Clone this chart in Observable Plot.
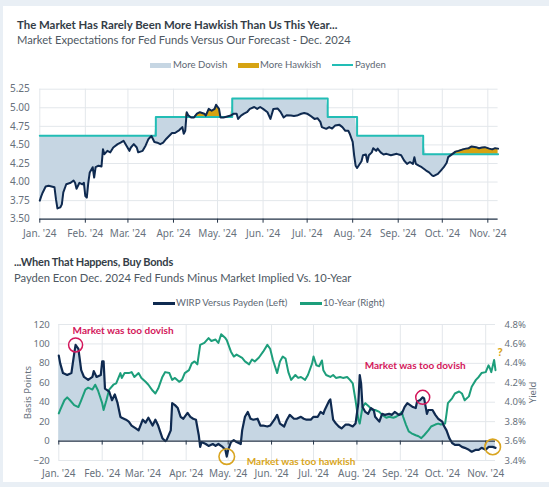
<!DOCTYPE html>
<html><head><meta charset="utf-8">
<script src="https://cdn.jsdelivr.net/npm/d3@7"></script>
<script src="https://cdn.jsdelivr.net/npm/@observablehq/plot@0.6"></script>
<style>
html,body{margin:0;padding:0;background:#e9eff5;}
#page{position:relative;width:549px;height:487px;overflow:hidden;font-family:Lato,"Noto Sans",sans-serif;}
#card{position:absolute;left:3px;top:6px;width:546px;height:476px;background:#fff;}
.title{position:absolute;font-weight:700;font-size:11.4px;color:#343d47;white-space:nowrap;line-height:1;}
.sub{position:absolute;font-size:11.2px;color:#4e5862;white-space:nowrap;line-height:1;}
.lg{position:absolute;font-size:9.6px;color:#5d6773;white-space:nowrap;line-height:1;}
.sw{position:absolute;}
.chart{position:absolute;left:0;}
</style></head>
<body><div id="page"><div id="card"></div>
<div class="title" style="left:17px;top:18.5px">The Market Has Rarely Been More Hawkish Than Us This Year...</div>
<div class="sub" style="left:17px;top:34px">Market Expectations for Fed Funds Versus Our Forecast - Dec. 2024</div>
<div class="sw" style="left:150px;top:62.5px;width:21px;height:5px;background:#c6d6e3"></div>
<div class="lg" style="left:173px;top:60px">More Dovish</div>
<div class="sw" style="left:238px;top:62.5px;width:21px;height:5px;background:#d6a312"></div>
<div class="lg" style="left:260px;top:60px">More Hawkish</div>
<div class="sw" style="left:332px;top:64px;width:21px;height:2px;background:#22bdb5"></div>
<div class="lg" style="left:355px;top:60px">Payden</div>
<div id="topChart" class="chart" style="top:70px"></div>
<div class="title" style="left:14px;top:255.5px;font-size:11px;letter-spacing:-0.2px">...When That Happens, Buy Bonds</div>
<div class="sub" style="left:14px;top:272px">Payden Econ Dec. 2024 Fed Funds Minus Market Implied Vs. 10-Year</div>
<div class="sw" style="left:153px;top:301.5px;width:22px;height:3px;background:#0f2a50"></div>
<div class="lg" style="left:176px;top:298px">WIRP Versus Payden (Left)</div>
<div class="sw" style="left:300px;top:301.5px;width:22px;height:3px;background:#1d9e7b"></div>
<div class="lg" style="left:323px;top:298px">10-Year (Right)</div>
<div id="bottomChart" class="chart" style="top:310px"></div>
</div>
<script>
const parse = d3.utcParse("%Y-%m-%d");
const fmtMonth = d3.utcFormat("%b. '%y");

const monthTicks = ["2024-01-01","2024-02-01","2024-03-01","2024-04-01","2024-05-01","2024-06-01","2024-07-01","2024-08-01","2024-09-01","2024-10-01","2024-11-01"];
const xDomain = ["2024-01-01","2024-11-08"];
const rateTicks = [3.5,3.75,4.0,4.25,4.5,4.75,5.0,5.25];
const bpTicks = [-20,0,20,40,60,80,100,120];
const yieldTicks = [3.4,3.6,3.8,4.0,4.2,4.4,4.6,4.8];
const yieldAtZeroBp = 3.6;

// Payden forecast for Dec. 2024 fed funds (step changes)
const paydenForecast = [
  ["2024-01-01",4.625],["2024-03-20",4.875],["2024-05-11",5.125],["2024-07-15",4.875],
  ["2024-08-04",4.625],["2024-09-18",4.375],["2024-11-08",4.375]
];

// Market implied Dec. 2024 fed funds
const marketImplied = [
  ["2024-01-01",3.75],["2024-01-02",3.81],["2024-01-03",3.86],["2024-01-05",3.94],["2024-01-07",3.95],
  ["2024-01-09",3.94],["2024-01-11",3.93],["2024-01-12",3.77],["2024-01-13",3.645],["2024-01-15",3.66],
  ["2024-01-16",3.70],["2024-01-17",3.86],["2024-01-19",3.97],["2024-01-22",3.99],["2024-01-24",4.02],
  ["2024-01-25",3.99],["2024-01-26",3.91],["2024-01-28",3.99],["2024-01-30",3.97],["2024-01-31",3.99],
  ["2024-02-01",3.81],["2024-02-02",3.79],["2024-02-03",3.99],["2024-02-04",4.13],["2024-02-06",4.20],
  ["2024-02-07",4.06],["2024-02-08",4.20],["2024-02-10",4.22],["2024-02-12",4.21],["2024-02-13",4.44],
  ["2024-02-14",4.375],["2024-02-16",4.42],["2024-02-18",4.40],["2024-02-20",4.465],["2024-02-23",4.51],
  ["2024-02-25",4.53],["2024-02-27",4.555],["2024-02-29",4.49],["2024-03-02",4.42],["2024-03-03",4.465],
  ["2024-03-05",4.51],["2024-03-07",4.465],["2024-03-08",4.40],["2024-03-11",4.42],["2024-03-13",4.49],
  ["2024-03-15",4.58],["2024-03-17",4.62],["2024-03-19",4.54],["2024-03-21",4.53],["2024-03-23",4.51],
  ["2024-03-25",4.53],["2024-03-27",4.58],["2024-03-29",4.62],["2024-03-31",4.66],["2024-04-02",4.66],
  ["2024-04-05",4.70],["2024-04-07",4.74],["2024-04-08",4.65],["2024-04-09",4.69],["2024-04-10",4.94],
  ["2024-04-11",4.90],["2024-04-13",4.87],["2024-04-15",4.87],["2024-04-17",4.92],["2024-04-19",4.94],
  ["2024-04-22",4.92],["2024-04-23",4.895],["2024-04-25",4.985],["2024-04-27",4.96],["2024-04-29",4.985],
  ["2024-04-30",5.04],["2024-05-02",4.985],["2024-05-03",4.87],["2024-05-05",4.87],["2024-05-07",4.88],
  ["2024-05-10",4.895],["2024-05-12",4.92],["2024-05-14",4.92],["2024-05-15",4.85],["2024-05-17",4.895],
  ["2024-05-19",4.92],["2024-05-21",4.94],["2024-05-23",4.985],["2024-05-26",5.01],["2024-05-28",4.985],
  ["2024-05-30",5.01],["2024-06-01",4.985],["2024-06-04",4.94],["2024-06-06",4.85],["2024-06-08",4.985],
  ["2024-06-11",4.99],["2024-06-13",4.94],["2024-06-15",4.87],["2024-06-17",4.90],["2024-06-20",4.895],
  ["2024-06-22",4.89],["2024-06-24",4.895],["2024-06-27",4.92],["2024-06-29",4.93],["2024-07-01",4.92],
  ["2024-07-03",4.895],["2024-07-06",4.85],["2024-07-08",4.86],["2024-07-10",4.81],["2024-07-11",4.74],
  ["2024-07-14",4.716],["2024-07-16",4.74],["2024-07-18",4.72],["2024-07-20",4.76],["2024-07-23",4.77],
  ["2024-07-25",4.74],["2024-07-27",4.69],["2024-07-29",4.69],["2024-07-30",4.65],["2024-08-01",4.54],
  ["2024-08-02",4.36],["2024-08-03",4.22],["2024-08-04",4.19],["2024-08-05",4.22],["2024-08-07",4.28],
  ["2024-08-08",4.36],["2024-08-10",4.37],["2024-08-11",4.27],["2024-08-12",4.36],["2024-08-14",4.40],
  ["2024-08-15",4.456],["2024-08-17",4.42],["2024-08-18",4.45],["2024-08-20",4.40],["2024-08-22",4.37],
  ["2024-08-24",4.38],["2024-08-27",4.36],["2024-08-29",4.37],["2024-08-31",4.38],["2024-09-03",4.36],
  ["2024-09-05",4.29],["2024-09-07",4.245],["2024-09-09",4.27],["2024-09-11",4.245],["2024-09-12",4.335],
  ["2024-09-13",4.245],["2024-09-15",4.22],["2024-09-17",4.20],["2024-09-20",4.155],["2024-09-22",4.13],
  ["2024-09-24",4.09],["2024-09-25",4.08],["2024-09-28",4.11],["2024-09-30",4.155],["2024-10-02",4.20],
  ["2024-10-04",4.26],["2024-10-05",4.335],["2024-10-08",4.38],["2024-10-10",4.41],["2024-10-12",4.42],
  ["2024-10-15",4.44],["2024-10-17",4.45],["2024-10-19",4.456],["2024-10-21",4.48],["2024-10-24",4.47],
  ["2024-10-26",4.456],["2024-10-28",4.465],["2024-10-30",4.47],["2024-11-02",4.45],["2024-11-04",4.44],
  ["2024-11-06",4.456],["2024-11-08",4.45]
];

// WIRP versus Payden, basis points (left axis)
const wirpVsPayden = [
  ["2024-01-01",88],["2024-01-02",80],["2024-01-04",70],["2024-01-07",68],["2024-01-10",70],
  ["2024-01-12",90],["2024-01-13",99],["2024-01-15",95],["2024-01-17",73],["2024-01-19",66],
  ["2024-01-22",63],["2024-01-25",66],["2024-01-26",72],["2024-01-28",66],["2024-01-31",68],
  ["2024-02-01",82],["2024-02-02",82],["2024-02-03",54],["2024-02-06",51],["2024-02-08",42],
  ["2024-02-10",48],["2024-02-12",39],["2024-02-14",25],["2024-02-15",24],["2024-02-18",22],
  ["2024-02-20",20],["2024-02-22",16],["2024-02-25",13],["2024-02-27",11],["2024-03-01",22],
  ["2024-03-03",19],["2024-03-05",24],["2024-03-08",16],["2024-03-10",22],["2024-03-12",16],
  ["2024-03-15",3],["2024-03-17",0],["2024-03-18",1],["2024-03-21",11],["2024-03-22",39],
  ["2024-03-24",37],["2024-03-26",34],["2024-03-28",25],["2024-03-30",23],["2024-04-02",29],
  ["2024-04-04",25],["2024-04-06",23],["2024-04-08",22],["2024-04-10",6],["2024-04-11",-6],
  ["2024-04-12",-1],["2024-04-15",-3],["2024-04-17",-5],["2024-04-20",-3],["2024-04-22",-5],
  ["2024-04-24",-3],["2024-04-27",-6],["2024-04-29",-9],["2024-04-30",-16],["2024-05-01",-9],
  ["2024-05-03",-1],["2024-05-05",1],["2024-05-07",-1],["2024-05-10",-3],["2024-05-11",11],
  ["2024-05-13",25],["2024-05-15",30],["2024-05-17",23],["2024-05-19",22],["2024-05-22",23],
  ["2024-05-24",16],["2024-05-26",16],["2024-05-29",15],["2024-05-31",16],["2024-06-03",22],
  ["2024-06-05",27],["2024-06-07",18],["2024-06-10",15],["2024-06-12",22],["2024-06-14",27],
  ["2024-06-17",23],["2024-06-19",23],["2024-06-22",25],["2024-06-24",23],["2024-06-26",22],
  ["2024-06-29",22],["2024-07-01",25],["2024-07-04",25],["2024-07-06",30],["2024-07-08",28],
  ["2024-07-09",32],["2024-07-12",41],["2024-07-13",43],["2024-07-15",22],["2024-07-17",18],
  ["2024-07-19",15],["2024-07-21",13],["2024-07-24",17],["2024-07-26",17],["2024-07-29",15],
  ["2024-07-31",18],["2024-08-02",39],["2024-08-03",68],["2024-08-04",59],["2024-08-05",35],
  ["2024-08-07",30],["2024-08-09",28],["2024-08-11",34],["2024-08-13",32],["2024-08-14",25],
  ["2024-08-17",20],["2024-08-19",28],["2024-08-21",27],["2024-08-24",28],["2024-08-26",27],
  ["2024-08-28",30],["2024-08-31",27],["2024-09-02",28],["2024-09-04",35],["2024-09-06",39],
  ["2024-09-08",37],["2024-09-10",35],["2024-09-12",34],["2024-09-13",41],["2024-09-15",42],
  ["2024-09-17",45],["2024-09-18",44],["2024-09-20",28],["2024-09-21",32],["2024-09-24",32],
  ["2024-09-26",27],["2024-09-28",23],["2024-10-01",20],["2024-10-02",16],["2024-10-04",11],
  ["2024-10-06",3],["2024-10-08",-2],["2024-10-10",-4],["2024-10-13",-4],["2024-10-15",-6],
  ["2024-10-17",-7],["2024-10-20",-9],["2024-10-22",-11],["2024-10-25",-9],["2024-10-27",-9],
  ["2024-10-29",-7],["2024-11-01",-9],["2024-11-03",-6],["2024-11-06",-6],["2024-11-08",-7]
];

// 10-year Treasury yield, % (right axis)
const tenYear = [
  ["2024-01-01",3.885],["2024-01-02",3.92],["2024-01-05",4.02],["2024-01-07",4.05],["2024-01-09",4.02],
  ["2024-01-12",3.97],["2024-01-15",3.95],["2024-01-17",4.02],["2024-01-20",4.13],["2024-01-22",4.15],
  ["2024-01-25",4.13],["2024-01-27",4.18],["2024-01-29",4.12],["2024-02-01",3.99],["2024-02-02",3.92],
  ["2024-02-04",4.02],["2024-02-06",4.13],["2024-02-09",4.18],["2024-02-11",4.195],["2024-02-14",4.30],
  ["2024-02-15",4.25],["2024-02-17",4.30],["2024-02-20",4.30],["2024-02-22",4.31],["2024-02-24",4.26],
  ["2024-02-27",4.30],["2024-02-29",4.25],["2024-03-03",4.21],["2024-03-05",4.18],["2024-03-08",4.12],
  ["2024-03-10",4.09],["2024-03-12",4.14],["2024-03-15",4.26],["2024-03-17",4.31],["2024-03-20",4.30],
  ["2024-03-22",4.23],["2024-03-24",4.25],["2024-03-27",4.21],["2024-03-29",4.23],["2024-03-31",4.30],
  ["2024-04-03",4.33],["2024-04-05",4.40],["2024-04-07",4.42],["2024-04-09",4.39],["2024-04-11",4.59],
  ["2024-04-14",4.61],["2024-04-17",4.66],["2024-04-19",4.63],["2024-04-22",4.645],["2024-04-24",4.61],
  ["2024-04-26",4.70],["2024-04-29",4.66],["2024-04-30",4.64],["2024-05-03",4.52],["2024-05-05",4.47],
  ["2024-05-07",4.49],["2024-05-11",4.456],["2024-05-13",4.42],["2024-05-16",4.39],["2024-05-18",4.44],
  ["2024-05-20",4.42],["2024-05-23",4.46],["2024-05-26",4.52],["2024-05-29",4.59],["2024-05-31",4.55],
  ["2024-06-02",4.435],["2024-06-05",4.30],["2024-06-07",4.42],["2024-06-09",4.47],["2024-06-11",4.45],
  ["2024-06-13",4.31],["2024-06-15",4.23],["2024-06-18",4.28],["2024-06-20",4.25],["2024-06-22",4.26],
  ["2024-06-25",4.23],["2024-06-27",4.28],["2024-06-30",4.40],["2024-07-01",4.47],["2024-07-03",4.38],
  ["2024-07-05",4.37],["2024-07-07",4.43],["2024-07-08",4.33],["2024-07-10",4.28],["2024-07-13",4.26],
  ["2024-07-15",4.28],["2024-07-17",4.25],["2024-07-20",4.26],["2024-07-22",4.25],["2024-07-25",4.26],
  ["2024-07-27",4.23],["2024-07-29",4.195],["2024-07-31",4.02],["2024-08-02",3.82],["2024-08-03",3.78],
  ["2024-08-05",3.95],["2024-08-07",3.99],["2024-08-10",3.95],["2024-08-12",3.92],["2024-08-14",3.92],
  ["2024-08-17",3.90],["2024-08-19",3.87],["2024-08-22",3.84],["2024-08-24",3.85],["2024-08-27",3.84],
  ["2024-08-29",3.85],["2024-08-31",3.87],["2024-09-02",3.90],["2024-09-03",3.85],["2024-09-05",3.77],
  ["2024-09-07",3.70],["2024-09-09",3.68],["2024-09-12",3.66],["2024-09-14",3.65],["2024-09-16",3.63],
  ["2024-09-18",3.66],["2024-09-21",3.71],["2024-09-23",3.75],["2024-09-26",3.77],["2024-09-28",3.78],
  ["2024-09-30",3.77],["2024-10-03",3.78],["2024-10-04",3.88],["2024-10-05",3.99],["2024-10-08",4.04],
  ["2024-10-10",4.09],["2024-10-13",4.11],["2024-10-15",4.09],["2024-10-17",4.02],["2024-10-20",4.06],
  ["2024-10-22",4.16],["2024-10-25",4.23],["2024-10-27",4.26],["2024-10-29",4.30],["2024-11-01",4.31],
  ["2024-11-03",4.38],["2024-11-04",4.35],["2024-11-05",4.31],["2024-11-07",4.435],["2024-11-08",4.33]
];

// Annotations (anchored on WIRP observations)
const dovishMarks = ["2024-01-13","2024-09-17"];
const hawkishMarks = ["2024-04-30","2024-11-06"];
const dovishLabel = "Market was too dovish";
const hawkishLabel = "Market was too hawkish";
const questionDate = "2024-11-07";

(function () {
// ---------- styles ----------
const NAVY = "#0f2a50", TEAL = "#22bdb5", GREEN = "#1d9e7b", DOVE = "#c6d6e3", HAWK = "#d6a312";
const GRID = "#e3e7eb", AXIS = "#27364a", TXT = "#67717c", CRIMSON = "#d3175b", GOLD = "#d9a521";
const FONT = "'Noto Sans', sans-serif";
const NOTEFONT = "Lato, 'Noto Sans', sans-serif";

const ticksX = monthTicks.map(parse);
const domX = xDomain.map(parse);

// ---------- top chart ----------
const payden = paydenForecast.map(([d, v]) => ({date: parse(d), value: v}));
const paydenAt = (date) => { let v = payden[0].value; for (const p of payden) if (p.date <= date) v = p.value; return v; };
const rows = marketImplied.map(([d, v]) => { const date = parse(d); return {date, market: v, payden: paydenAt(date)}; });

const chartTop = Plot.plot({
  width: 549, height: 170,
  marginLeft: 39.3, marginRight: 51.4, marginTop: 18.7, marginBottom: 21.3,
  x: {type: "utc", domain: domX},
  y: {domain: [3.5, 5.25]},
  style: {fontFamily: FONT, fontSize: "10px", color: TXT, background: "transparent", overflow: "visible"},
  marks: [
    Plot.gridY({ticks: rateTicks, stroke: GRID, strokeOpacity: 1}),
    Plot.gridX({ticks: ticksX, stroke: GRID, strokeOpacity: 1}),
    Plot.areaY(rows, {x: "date", y1: "market", y2: d => Math.max(d.market, d.payden), fill: DOVE}),
    Plot.areaY(rows, {x: "date", y1: "payden", y2: d => Math.max(d.market, d.payden), fill: HAWK}),
    Plot.line(payden, {x: "date", y: "value", curve: "step-after", stroke: TEAL, strokeWidth: 2}),
    Plot.line(rows, {x: "date", y: "market", stroke: NAVY, strokeWidth: 2}),
    Plot.ruleY([3.5], {stroke: AXIS, strokeWidth: 1.2}),
    Plot.axisX({ticks: ticksX, tickFormat: fmtMonth, tickSize: 4, tickPadding: 7, stroke: AXIS, fill: TXT, label: null}),
    Plot.axisY({ticks: rateTicks, tickFormat: d3.format(".2f"), tickSize: 0, tickPadding: 10, fill: TXT, label: null})
  ]
});
document.getElementById("topChart").appendChild(chartTop);

// ---------- bottom chart ----------
const toBp = (y) => (y - yieldAtZeroBp) * 100;
const wirp = wirpVsPayden.map(([d, v]) => ({date: parse(d), value: v}));
const ten = tenYear.map(([d, v]) => ({date: parse(d), value: v}));
const wirpAt = (s) => wirp.find(r => +r.date === +parse(s));
const tenAt = (s) => ten.find(r => +r.date === +parse(s));
const dovePts = dovishMarks.map(wirpAt);
const hawkPts = hawkishMarks.map(wirpAt);
const qPt = tenAt(questionDate);

const chartBottom = Plot.plot({
  width: 549, height: 177,
  marginLeft: 58.3, marginRight: 54, marginTop: 14, marginBottom: 27,
  x: {type: "utc", domain: domX},
  y: {domain: [-20, 120]},
  style: {fontFamily: FONT, fontSize: "9.5px", color: TXT, background: "transparent", overflow: "visible"},
  marks: [
    Plot.gridY({ticks: bpTicks, stroke: GRID, strokeOpacity: 1}),
    Plot.gridX({ticks: ticksX, stroke: GRID, strokeOpacity: 1}),
    Plot.areaY(wirp, {x: "date", y: "value", fill: DOVE}),
    Plot.line(ten, {x: "date", y: d => toBp(d.value), stroke: GREEN, strokeWidth: 2}),
    Plot.line(wirp, {x: "date", y: "value", stroke: NAVY, strokeWidth: 2.2}),
    Plot.ruleY([0], {stroke: AXIS, strokeWidth: 1.2}),
    Plot.ruleX(ticksX, {y1: 0, y2: 0, insetBottom: -4, stroke: AXIS}),
    Plot.axisX({ticks: ticksX, tickFormat: fmtMonth, tickSize: 0, tickPadding: 9.5, fill: TXT, label: null, fontSize: 10}),
    Plot.axisY({ticks: bpTicks, tickSize: 0, tickPadding: 9, fill: TXT, label: "Basis Points", labelAnchor: "center", labelOffset: 35, labelArrow: "none"}),
    Plot.axisY({anchor: "right", ticks: yieldTicks.map(toBp), tickFormat: d => (yieldAtZeroBp + d / 100).toFixed(1) + "%", tickSize: 0, tickPadding: 9, fill: TXT, label: "Yield", labelAnchor: "center", labelOffset: 40, labelArrow: "none"}),
    Plot.dot(dovePts, {x: "date", y: "value", r: 7, stroke: CRIMSON, strokeWidth: 1.5, fill: "none"}),
    Plot.dot(hawkPts, {x: "date", y: "value", r: 7.8, stroke: GOLD, strokeWidth: 1.6, fill: "none"}),
    Plot.text([dovePts[0]], {x: "date", y: "value", text: () => dovishLabel, textAnchor: "start", dx: -3, dy: -14.5, fill: CRIMSON, fontWeight: 700, fontSize: 10, fontFamily: NOTEFONT}),
    Plot.text([dovePts[1]], {x: "date", y: "value", text: () => dovishLabel, textAnchor: "middle", dx: -7.5, dy: -31.5, fill: CRIMSON, fontWeight: 700, fontSize: 10, fontFamily: NOTEFONT}),
    Plot.text([hawkPts[0]], {x: "date", y: "value", text: () => hawkishLabel, textAnchor: "start", dx: 20, dy: 5.5, fill: GOLD, fontWeight: 700, fontSize: 10, fontFamily: NOTEFONT}),
    Plot.text([qPt], {x: "date", y: d => toBp(d.value), text: () => "?", dx: 6, dy: -7, fill: GOLD, fontWeight: 700, fontSize: 10})
  ]
});
document.getElementById("bottomChart").appendChild(chartBottom);
})();
</script>
</body></html>
